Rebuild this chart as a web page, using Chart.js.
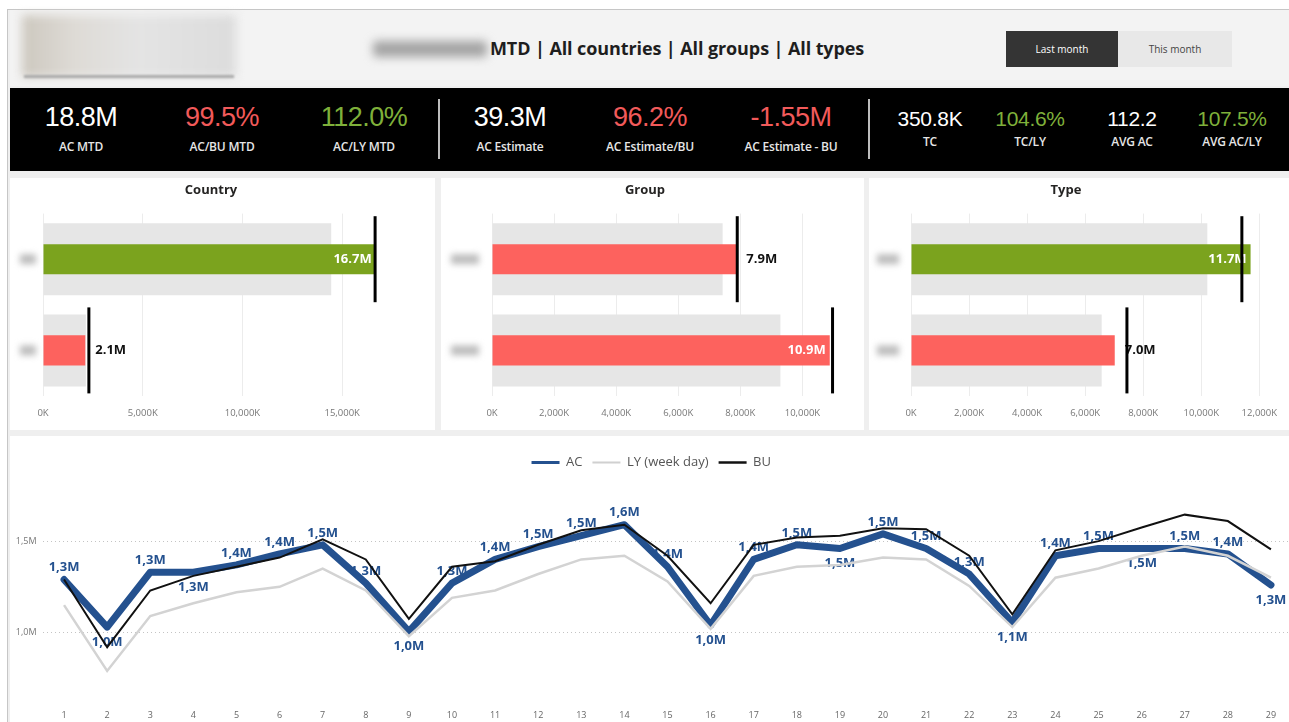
<!DOCTYPE html>
<html>
<head>
<meta charset="utf-8">
<title>MTD dashboard</title>
<script src="https://cdn.jsdelivr.net/npm/chart.js@4.4.0/dist/chart.umd.min.js"></script>
<style>
  body { margin:0; width:1289px; height:722px; overflow:hidden; background:#fff; font-family:'Open Sans', sans-serif; position:relative; }
  .abs { position:absolute; }
  #frame { left:7px; top:9px; width:1290px; height:720px; background:#efefef; border-left:1px solid #c6c6c6; border-top:1px solid #c6c6c6; }
  #header { left:10px; top:10px; width:1279px; height:76px; background:#f3f3f3; }
  #logo { left:22px; top:15px; width:214px; height:62px; background:linear-gradient(90deg,#cdc8bf 0%,#dedbd6 25%,#e4e4e4 55%,#dcdcdc 100%); filter:blur(5px); }
  #logoLine { left:24px; top:75px; width:210px; height:3px; background:#a9a9a9; filter:blur(1px); }
  #dateBlur { left:373px; top:41px; width:114px; height:16px; background:#a4a4a4; filter:blur(5px); border-radius:4px; }
  #title { left:490px; top:36px; font-size:18px; font-weight:700; color:#1e1e1e; white-space:nowrap; letter-spacing:-0.1px; }
  .btn { top:31px; height:36px; line-height:36px; text-align:center; font-size:10px; }
  #btnLast { left:1006px; width:112px; background:#343434; color:#fff; }
  #btnThis { left:1118px; width:114px; background:#e8e8e8; color:#444; }
  #kpi { left:10px; top:88px; width:1279px; height:83px; background:#000; }
  .kv { width:150px; text-align:center; font-family:'Liberation Sans', Arial, sans-serif; white-space:nowrap; }
  .kl { width:150px; text-align:center; font-size:12px; font-weight:600; color:#e6e6e6; white-space:nowrap; letter-spacing:-0.2px; }
  .div { width:2px; background:#bdbdbd; }
  .panel { background:#fff; }
</style>
</head>
<body>
<div id="frame" class="abs"></div>
<div id="header" class="abs"></div>
<div id="logo" class="abs"></div>
<div id="logoLine" class="abs"></div>
<div id="dateBlur" class="abs"></div>
<div id="title" class="abs">MTD | All countries | All groups | All types</div>
<div id="btnLast" class="abs btn">Last month</div>
<div id="btnThis" class="abs btn">This month</div>
<div id="kpi" class="abs"></div>

<div class="abs panel" style="left:10px;top:178px;width:425px;height:252px;"><canvas id="cCountry" width="425" height="252"></canvas></div>
<div class="abs panel" style="left:441px;top:178px;width:423px;height:252px;"><canvas id="cGroup" width="423" height="252"></canvas></div>
<div class="abs panel" style="left:869px;top:178px;width:420px;height:252px;"><canvas id="cType" width="420" height="252"></canvas></div>
<div class="abs panel" style="left:10px;top:436px;width:1289px;height:286px;"><canvas id="cLine" width="1289" height="286"></canvas></div>

<script>
// KPI strip
var kpiValues = ['18.8M', '99.5%', '112.0%', '39.3M', '96.2%', '-1.55M', '350.8K', '104.6%', '112.2', '107.5%'];
var kpiLabels = ['AC MTD', 'AC/BU MTD', 'AC/LY MTD', 'AC Estimate', 'AC Estimate/BU', 'AC Estimate - BU', 'TC', 'TC/LY', 'AVG AC', 'AVG AC/LY'];
var kpiStatus = ['n', 'r', 'g', 'n', 'r', 'r', 'n', 'g', 'n', 'g'];

// bullet charts (values in K)
var countryCats = ['Country 1', 'Country 2'];
var countryAC = [16680, 2120];
var countryLY = [14450, 2150];
var countryBU = [16650, 2300];
var countryTicks = [0, 5000, 10000, 15000];

var groupCats = ['Group 1', 'Group 2'];
var groupAC = [7870, 10880];
var groupLY = [7430, 9290];
var groupBU = [7900, 10970];
var groupTicks = [0, 2000, 4000, 6000, 8000, 10000];

var typeCats = ['Type 1', 'Type 2'];
var typeAC = [11700, 7020];
var typeLY = [10210, 6570];
var typeBU = [11400, 7440];
var typeTicks = [0, 2000, 4000, 6000, 8000, 10000, 12000];

// daily line chart (values in M)
var days = ['1','2','3','4','5','6','7','8','9','10','11','12','13','14','15','16','17','18','19','20','21','22','23','24','25','26','27','28','29'];
var acValues = [1.29, 1.03, 1.33, 1.33, 1.37, 1.43, 1.48, 1.27, 1.005, 1.27, 1.40, 1.47, 1.53, 1.59, 1.36, 1.04, 1.40, 1.48, 1.46, 1.54, 1.46, 1.32, 1.055, 1.42, 1.46, 1.46, 1.46, 1.43, 1.26];
var lyValues = [1.15, 0.79, 1.09, 1.16, 1.22, 1.25, 1.35, 1.23, 0.98, 1.19, 1.23, 1.32, 1.40, 1.42, 1.28, 1.02, 1.31, 1.36, 1.37, 1.41, 1.40, 1.255, 1.03, 1.30, 1.35, 1.42, 1.47, 1.42, 1.30];
var buValues = [1.29, 0.92, 1.23, 1.31, 1.36, 1.41, 1.51, 1.40, 1.075, 1.36, 1.39, 1.48, 1.56, 1.59, 1.42, 1.16, 1.48, 1.52, 1.53, 1.57, 1.565, 1.42, 1.10, 1.45, 1.50, 1.575, 1.645, 1.61, 1.455];
var labelPos = ['a','b','a','b','a','a','a','a','b','a','a','a','a','a','a','b','a','a','b','a','a','a','b','a','a','b','a','a','b'];
var yTicks = [1.0, 1.5];

var GREEN = '#7ba31e';
var RED = '#fd625e';
var BLUE = '#24518f';

// KPI layout
var kpiX = [81, 222, 364, 510, 650, 791, 930, 1030, 1132, 1232];
var kpiColor = { n: '#ffffff', r: '#f25a5a', g: '#7fb03a' };
var kpi = document.getElementById('kpi');
for (var i = 0; i < kpiValues.length; i++) {
	var small = i >= 6;
	var v = document.createElement('div');
	v.className = 'abs kv';
	v.style.left = (kpiX[i] - 10 - 75) + 'px';
	v.style.top = small ? '19px' : '14px';
	v.style.fontSize = small ? '21px' : '27px';
	v.style.letterSpacing = small ? '-0.3px' : '-0.5px';
	v.style.color = kpiColor[kpiStatus[i]];
	v.textContent = kpiValues[i];
	kpi.appendChild(v);
	var l = document.createElement('div');
	l.className = 'abs kl';
	l.style.left = (kpiX[i] - 10 - 75) + 'px';
	l.style.top = small ? '45px' : '50px';
	l.textContent = kpiLabels[i];
	kpi.appendChild(l);
}
[428, 858].forEach(function(x) {
	var d = document.createElement('div');
	d.className = 'abs div';
	d.style.left = x + 'px'; d.style.top = '11px'; d.style.height = '60px';
	kpi.appendChild(d);
});

Chart.defaults.font.family = "'Open Sans', sans-serif";
Chart.defaults.animation = false;

// blurred category names on the bullet charts
var blobPlugin = {
	id: 'blobs',
	afterDraw: function(chart, args, opts) {
		var ctx = chart.ctx, y = chart.scales.y;
		ctx.save();
		ctx.filter = 'blur(3px)';
		ctx.fillStyle = '#bdbdbd';
		y.ticks.forEach(function(t, i) {
			var py = y.getPixelForTick(i);
			ctx.fillRect(opts.x, py - 5, opts.w, 10);
		});
		ctx.restore();
	}
};

// value labels on the AC bars
var barLabels = {
	id: 'barLabels',
	afterDatasetDraw: function(chart, args) {
		if (args.index !== 1) return;
		var ds = chart.data.datasets[1].data;
		var maxV = Math.max.apply(null, ds);
		var ctx = chart.ctx;
		ctx.save();
		ctx.font = "bold 13px 'Open Sans', sans-serif";
		ctx.textBaseline = 'middle';
		args.meta.data.forEach(function(bar, i) {
			var txt = (ds[i] / 1000).toFixed(1) + 'M';
			if (ds[i] === maxV) {
				ctx.fillStyle = '#fff'; ctx.textAlign = 'right';
				ctx.fillText(txt, bar.x - 4, bar.y);
			} else {
				ctx.fillStyle = '#111'; ctx.textAlign = 'left';
				ctx.fillText(txt, bar.x + 10, bar.y);
			}
		});
		ctx.restore();
	}
};

function makeBullet(id, title, cats, ac, ly, bu, ticks, axisMax, leftW, padRight, blob) {
	var colors = ac.map(function(v, i) { return v >= bu[i] ? GREEN : RED; });
	return new Chart(document.getElementById(id), {
		type: 'bar',
		data: {
			labels: cats,
			datasets: [
				{ label: 'LY', data: ly, backgroundColor: '#e6e6e6', barPercentage: 0.79, categoryPercentage: 1, grouped: false, order: 3 },
				{ label: 'AC', data: ac, backgroundColor: colors, barPercentage: 0.33, categoryPercentage: 1, grouped: false, order: 2 },
				{ label: 'BU', type: 'line', indexAxis: 'y', data: bu, showLine: false, pointStyle: 'line',
				  pointRadius: 43, pointRotation: 90, pointBorderColor: '#000', pointBorderWidth: 3, borderColor: '#000', order: 1, clip: false }
			]
		},
		options: {
			indexAxis: 'y',
			responsive: false,
			events: [],
			layout: { autoPadding: false, padding: { left: 0, right: padRight, top: 0, bottom: 10 } },
			plugins: {
				legend: { display: false },
				tooltip: { enabled: false },
				title: { display: true, text: title, color: '#252423', font: { size: 13, weight: 'bold' }, padding: { top: 4, bottom: 16 } },
				blobs: blob
			},
			scales: {
				x: {
					type: 'linear', min: 0, max: axisMax,
					afterBuildTicks: function(s) { s.ticks = ticks.map(function(v) { return { value: v }; }); },
					afterFit: function(s) { s.height = 24; },
					grid: { color: '#ececec', drawTicks: false },
					border: { display: false },
					ticks: { padding: 12, color: '#777', font: { size: 9.5 }, maxRotation: 0,
						callback: function(v) { return v.toLocaleString('en-US') + 'K'; } }
				},
				y: {
					grid: { display: false, drawTicks: false },
					border: { display: false },
					ticks: { display: false },
					afterFit: function(s) { s.width = leftW; }
				}
			}
		},
		plugins: [blobPlugin, barLabels]
	});
}

makeBullet('cCountry', 'Country', countryCats, countryAC, countryLY, countryBU, countryTicks, 18500, 33, 23, { x: 10, w: 16 });
makeBullet('cGroup', 'Group', groupCats, groupAC, groupLY, groupBU, groupTicks, 11500, 51, 15, { x: 10, w: 28 });
makeBullet('cType', 'Type', typeCats, typeAC, typeLY, typeBU, typeTicks, 12000, 42, 26, { x: 8, w: 22 });

// data labels of the AC line
var pointLabels = {
	id: 'pointLabels',
	afterDatasetDraw: function(chart, args) {
		if (args.index !== 0) return;
		var ctx = chart.ctx;
		ctx.save();
		ctx.font = "bold 13px 'Open Sans', sans-serif";
		ctx.fillStyle = BLUE;
		ctx.textAlign = 'center';
		ctx.textBaseline = 'middle';
		args.meta.data.forEach(function(pt, i) {
			var txt = acValues[i].toFixed(1).replace('.', ',') + 'M';
			var dy = labelPos[i] === 'a' ? -12 : 15;
			ctx.fillText(txt, pt.x, pt.y + dy);
		});
		ctx.restore();
	}
};

var legendWidths = [3, 2, 2.5];
var legendColors = [BLUE, '#d0d0d0', '#111'];

new Chart(document.getElementById('cLine'), {
	type: 'line',
	data: {
		labels: days,
		datasets: [
			{ label: 'AC', data: acValues, borderColor: BLUE, borderWidth: 7, pointRadius: 0, borderJoinStyle: 'round', borderCapStyle: 'round', order: 3 },
			{ label: 'LY (week day)', data: lyValues, borderColor: '#d3d3d3', borderWidth: 2.5, pointRadius: 0, order: 2 },
			{ label: 'BU', data: buValues, borderColor: '#111', borderWidth: 2, pointRadius: 0, order: 1 }
		]
	},
	options: {
		responsive: false,
		events: [],
		layout: { autoPadding: false, padding: { left: 0, right: 6.5, top: 10, bottom: 1 } },
		plugins: {
			tooltip: { enabled: false },
			legend: {
				position: 'top',
				labels: {
					usePointStyle: true, pointStyleWidth: 28, boxHeight: 13, padding: 10,
					color: '#555', font: { size: 13 },
					generateLabels: function(chart) {
						var items = Chart.defaults.plugins.legend.labels.generateLabels(chart);
						items.sort(function(a, b) { return a.datasetIndex - b.datasetIndex; });
						items.forEach(function(it) {
							it.pointStyle = 'line';
							it.lineWidth = legendWidths[it.datasetIndex];
							it.strokeStyle = legendColors[it.datasetIndex];
						});
						return items;
					}
				}
			}
		},
		scales: {
			x: {
				offset: true,
				afterFit: function(s) { s.height = 19; },
				grid: { display: false, drawTicks: false },
				border: { display: false },
				ticks: { color: '#666', font: { size: 9 }, padding: 8, maxRotation: 0, autoSkip: false }
			},
			y: {
				min: 0.62, max: 1.84,
				afterBuildTicks: function(s) { s.ticks = yTicks.map(function(v) { return { value: v }; }); },
				afterFit: function(s) { s.width = 32.5; },
				grid: { color: '#c4c4c4', drawTicks: false },
				border: { display: false, dash: [1, 3] },
				ticks: { color: '#777', font: { size: 9 }, padding: 6,
					callback: function(v) { return v.toFixed(1).replace('.', ',') + 'M'; } }
			}
		}
	},
	plugins: [pointLabels]
});
</script>
</body>
</html>
